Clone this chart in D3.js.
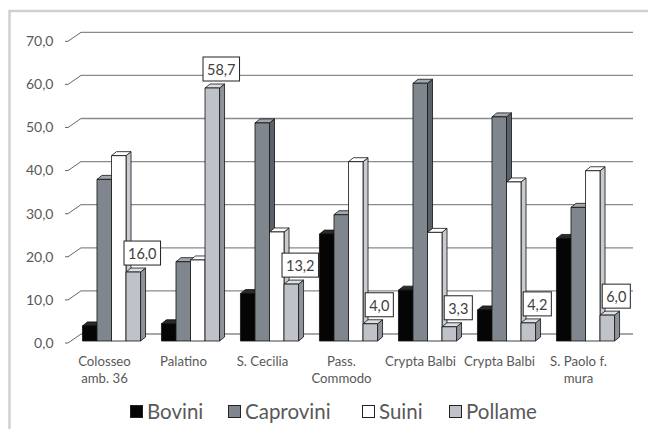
<!DOCTYPE html>
<html><head><meta charset="utf-8">
<script src="https://cdn.jsdelivr.net/npm/d3@7/dist/d3.min.js"></script>
<style>body{margin:0;background:#fff;}svg{display:block;font-family:Lato,"Open Sans",sans-serif;}</style>
</head><body><svg id="c" width="648" height="429"></svg>
<script>
const categories = [["Colosseo","amb. 36"],["Palatino"],["S. Cecilia"],["Pass.","Commodo"],["Crypta Balbi"],["Crypta Balbi"],["S. Paolo f.","mura"]];
const seriesNames = ["Bovini","Caprovini","Suini","Pollame"];
const bovini    = [3.5, 4.0, 11.0, 24.8, 11.8, 7.2, 23.8];
const caprovini = [37.5, 18.4, 50.6, 29.3, 59.8, 52.0, 31.0];
const suini     = [43.0, 18.8, 25.3, 41.6, 25.2, 36.9, 39.5];
const pollame   = [16.0, 58.7, 13.2, 4.0, 3.3, 4.2, 6.0];
const yTicks = [0,10,20,30,40,50,60,70];
const labelSeries = "Pollame";

const seriesVals = [bovini, caprovini, suini, pollame];
const colors = {
  Bovini:   {front:"#050505", side:"#000000", top:"#2a2a2a"},
  Caprovini:{front:"#7f868e", side:"#5b6168", top:"#a2a8ae"},
  Suini:    {front:"#ffffff", side:"#c8ccd0", top:"#ffffff"},
  Pollame:  {front:"#bfc3c9", side:"#8e9399", top:"#dde0e3"}
};

const svg = d3.select("#c");
svg.append("rect").attr("x",9.5).attr("y",11).attr("width",700).attr("height",500)
  .attr("fill","none").attr("stroke","#d0d0d0").attr("stroke-width",2.5);

const wallDX = 13, wallDY = -9;
const barDX = 5, barDY = -4, barOffX = 4, barOffY = -2;

const y = d3.scaleLinear().domain([0,70]).range([343, 41.3]);
const x = d3.scaleBand().domain(d3.range(categories.length)).range([68, 621]).paddingInner(0.265).paddingOuter(0.1325);
const xs = d3.scaleBand().domain(seriesNames).range([0, x.bandwidth()]);

const g = svg.append("g");
yTicks.forEach(t => {
  g.append("line").attr("x1",68+wallDX).attr("x2",633).attr("y1",y(t)+wallDY).attr("y2",y(t)+wallDY)
    .attr("stroke","#8a8a8a").attr("stroke-width",1.3);
  g.append("line").attr("x1",68).attr("x2",68+wallDX).attr("y1",y(t)).attr("y2",y(t)+wallDY)
    .attr("stroke","#555").attr("stroke-width",0.9);
  g.append("line").attr("x1",65).attr("x2",68).attr("y1",y(t)).attr("y2",y(t))
    .attr("stroke","#555").attr("stroke-width",0.9);
  g.append("text").attr("x",53.5).attr("y",y(t)+4.8).attr("text-anchor","end")
    .attr("font-size",14).attr("fill","#595959").text(d3.format(".1f")(t).replace(".",","));
});

const bars = svg.append("g");
categories.forEach((c,i) => {
  seriesNames.forEach((s,k) => {
    const v = seriesVals[k][i];
    const x0 = x(i) + xs(s) + barOffX, x1 = x0 + xs.bandwidth();
    const yb = y(0) + barOffY, yt = y(v) + barOffY;
    const col = colors[s];
    const side = [[x1,yb],[x1+barDX,yb+barDY],[x1+barDX,yt+barDY],[x1,yt]];
    const top = [[x0,yt],[x0+barDX,yt+barDY],[x1+barDX,yt+barDY],[x1,yt]];
    const front = [[x0,yb],[x0,yt],[x1,yt],[x1,yb]];
    [[side,col.side],[top,col.top],[front,col.front]].forEach(([p,f]) => {
      bars.append("path").attr("d","M"+p.join("L")+"Z").attr("fill",f)
        .attr("stroke","#111").attr("stroke-width",0.8).attr("stroke-linejoin","round");
    });
    if (s === labelSeries) {
      const txt = d3.format(".1f")(v).replace(".",",");
      const cx = (x0+x1)/2 + 9;
      const bottom = yt + barDY - 3;
      const lg = svg.append("g");
      const t = lg.append("text").attr("x",cx).attr("y",bottom-6).attr("text-anchor","middle")
        .attr("font-size",14.5).attr("fill","#404040").text(txt);
      const w = t.node().getComputedTextLength() + 8;
      lg.insert("rect","text").attr("x",cx-w/2).attr("y",bottom-24).attr("width",w).attr("height",24)
        .attr("fill","#fff").attr("stroke","#222").attr("stroke-width",1);
    }
  });
  const cx = x(i) + x.bandwidth()/2 - 3;
  c.forEach((line,j) => {
    svg.append("text").attr("x",cx).attr("y",366 + j*17).attr("text-anchor","middle")
      .attr("font-size",13.2).attr("fill","#595959").text(line);
  });
});

const legendX = [130, 228, 362, 449];
seriesNames.forEach((s,k) => {
  svg.append("rect").attr("x",legendX[k]+0.5).attr("y",405.5).attr("width",12).attr("height",12)
    .attr("fill",colors[s].front).attr("stroke","#222").attr("stroke-width",1);
  svg.append("text").attr("x",legendX[k]+17).attr("y",418.5).attr("font-size",20.5)
    .attr("fill","#595959").text(s);
});
</script></body></html>
